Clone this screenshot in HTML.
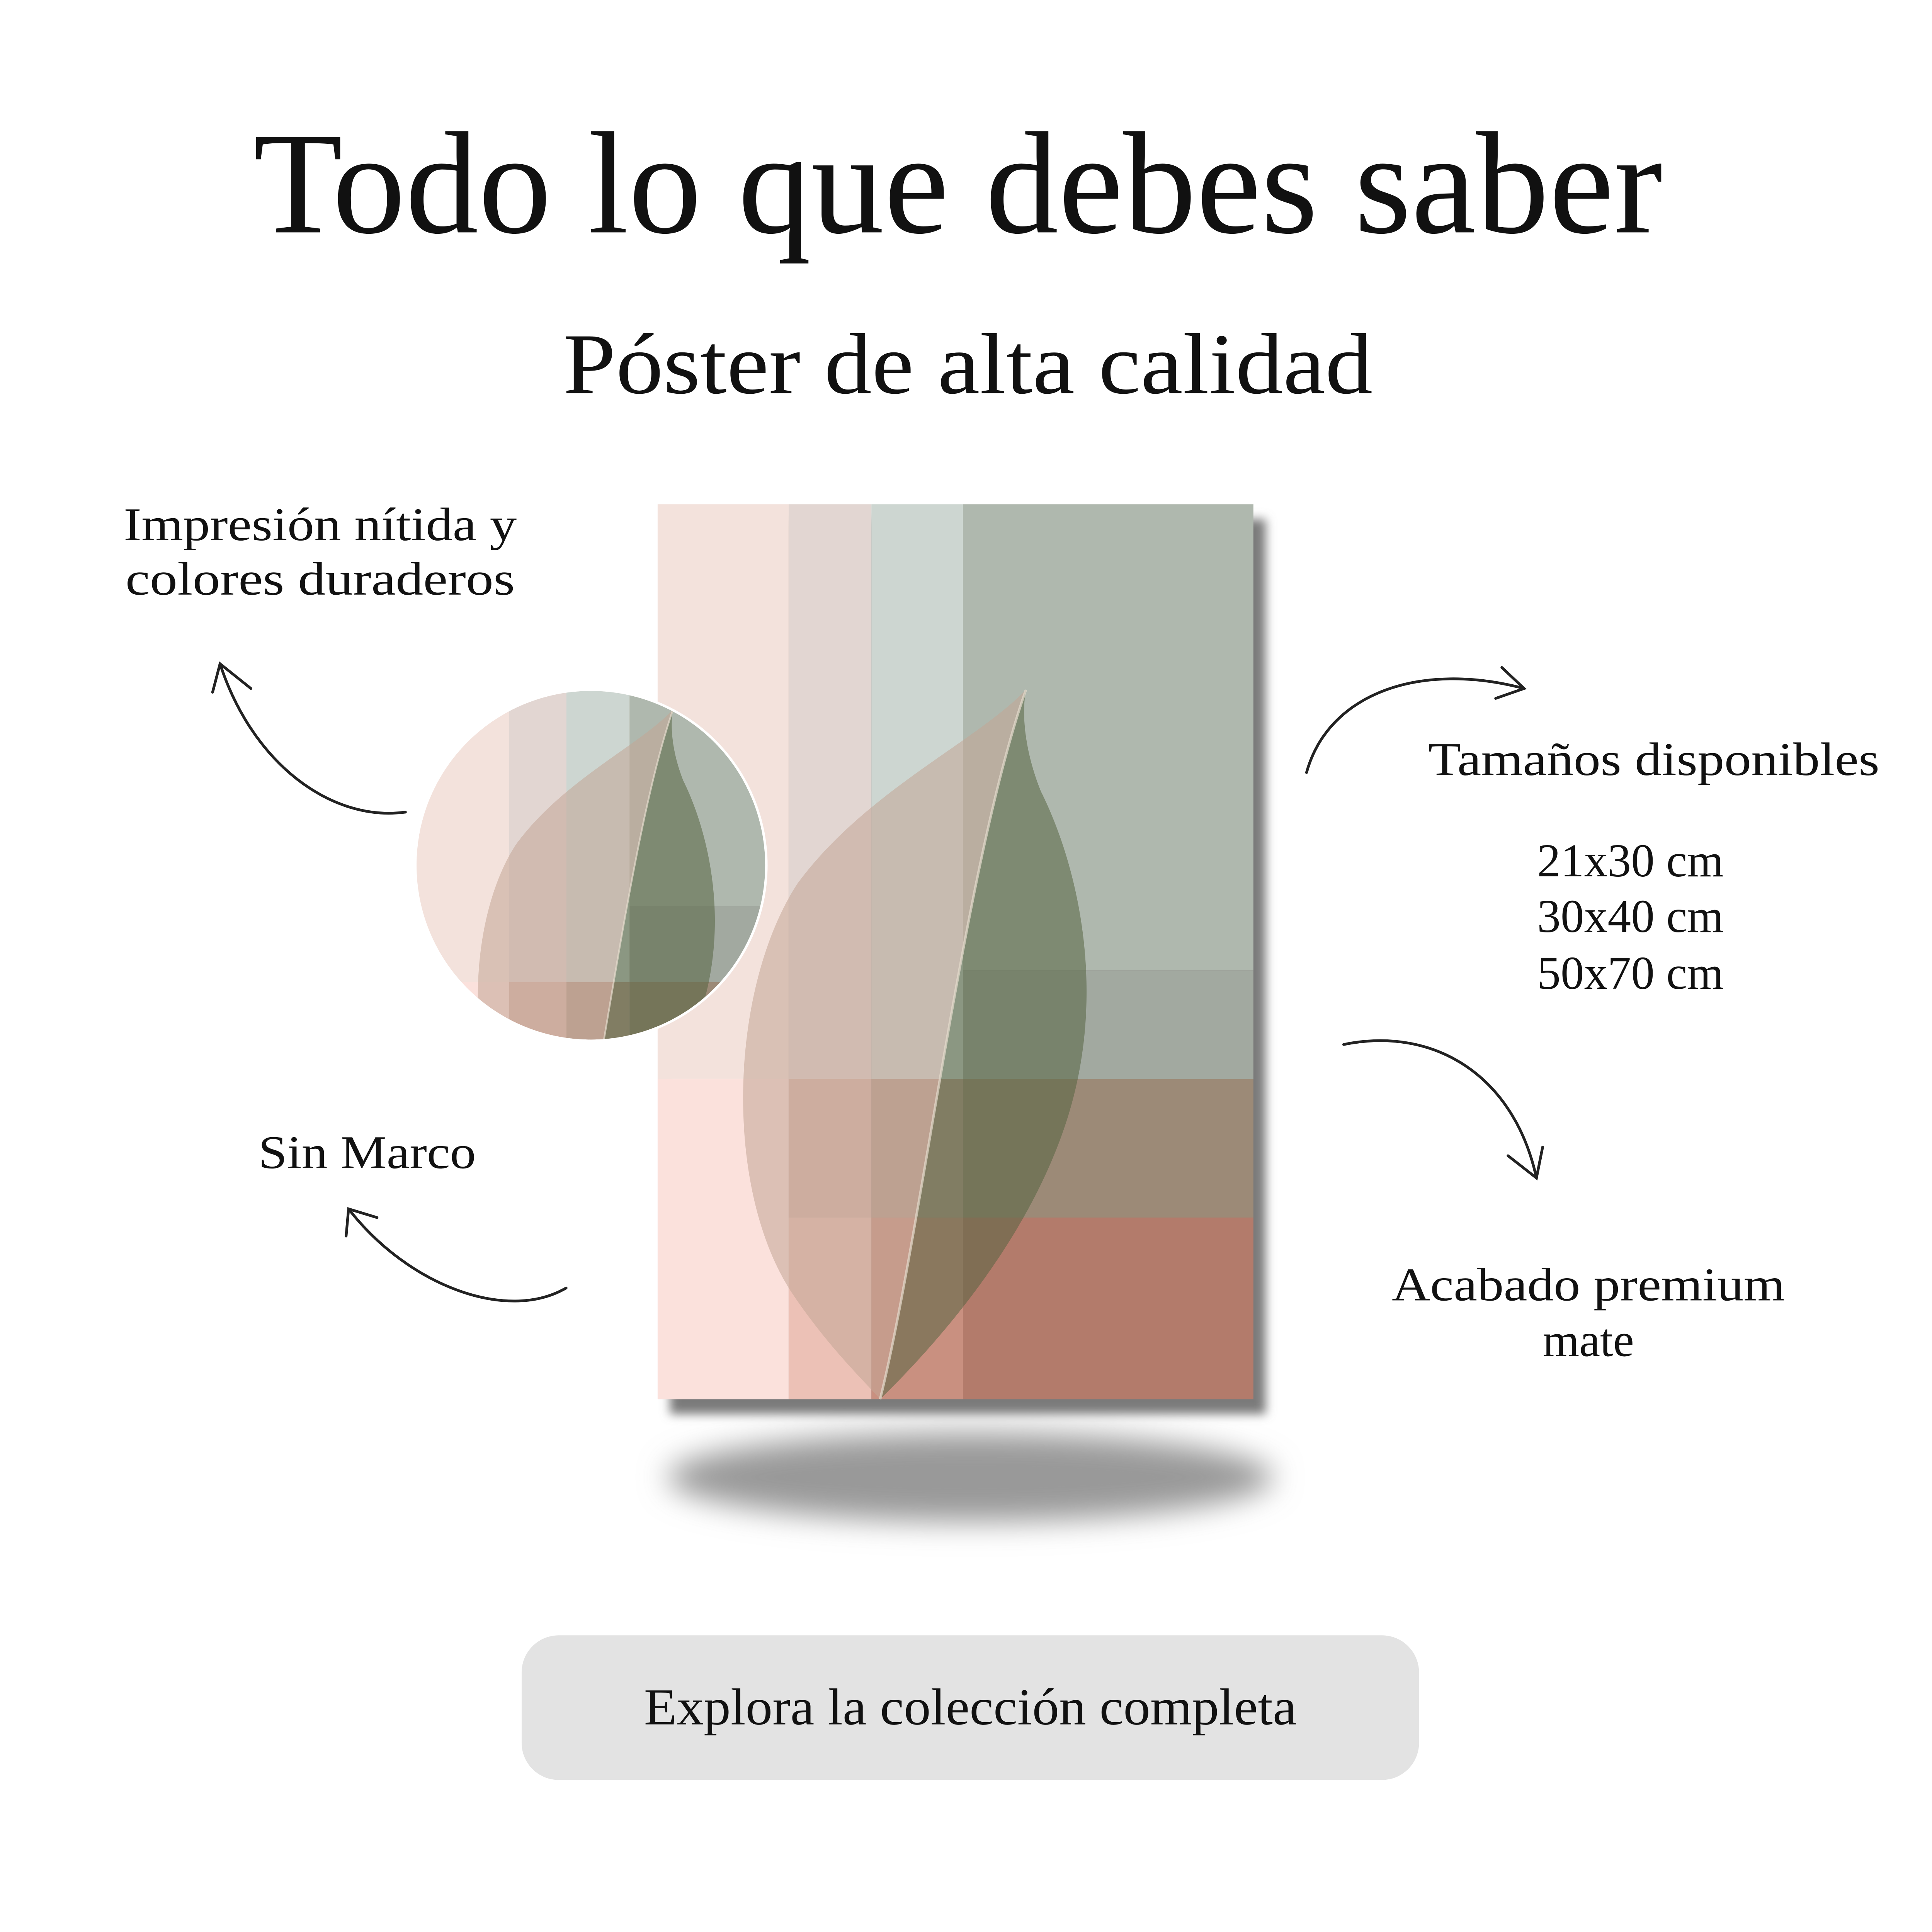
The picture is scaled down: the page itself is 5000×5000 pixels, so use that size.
<!DOCTYPE html>
<html><head><meta charset="utf-8"><style>
html,body{margin:0;padding:0;background:#fff;width:5000px;height:5000px;overflow:hidden}
svg{display:block}
text{font-family:"Liberation Serif",serif;fill:#111}
</style></head><body>
<svg width="5000" height="5000" viewBox="0 0 1563 1563" xmlns="http://www.w3.org/2000/svg">
<defs>
<filter id="b1" x="-50%" y="-50%" width="200%" height="200%"><feGaussianBlur stdDeviation="12"/></filter>
<filter id="b2" x="-20%" y="-20%" width="140%" height="140%"><feGaussianBlur stdDeviation="4"/></filter>
<clipPath id="cc"><circle cx="478" cy="700" r="141"/></clipPath>
<g id="poster">
<rect x="532" y="408" width="106" height="465" fill="#f3e2dc"/>
<rect x="532" y="873" width="106" height="259" fill="#fbe1dc"/>
<rect x="638" y="408" width="67" height="465" fill="#e2d6d2"/>
<rect x="638" y="873" width="67" height="112" fill="#d9b7ac"/>
<rect x="638" y="985" width="67" height="147" fill="#ecc1b6"/>
<rect x="705" y="408" width="74" height="465" fill="#cdd6d1"/>
<rect x="705" y="873" width="74" height="112" fill="#b59c8c"/>
<rect x="705" y="985" width="74" height="147" fill="#c99080"/>
<rect x="779" y="408" width="235" height="377" fill="#afb8ae"/>
<rect x="779" y="785" width="235" height="88" fill="#a2a9a0"/>
<rect x="779" y="873" width="235" height="112" fill="#9c8a77"/>
<rect x="779" y="985" width="235" height="147" fill="#b37b6b"/>
<path d="M830,558 C790,600 700,640 645,715 C590,800 585,960 640,1045 C670,1090 700,1118 712,1132 C745,1000 780,700 830,558 Z" fill="rgba(195,165,150,0.55)"/>
<path d="M830,558 C780,700 745,1000 712,1132 C760,1085 835,1000 865,900 C895,800 872,700 842,640 C830,610 826,580 830,558 Z" fill="rgba(85,100,65,0.55)"/>
<path d="M830,558 C780,700 745,1000 712,1132" stroke="rgba(230,220,205,0.7)" stroke-width="2" fill="none"/>
</g>
</defs>
<rect width="1563" height="1563" fill="#fff"/>
<text x="775" y="188" font-size="118" text-anchor="middle" textLength="1140" lengthAdjust="spacingAndGlyphs">Todo lo que debes saber</text>
<text x="783" y="318" font-size="70" text-anchor="middle" textLength="655" lengthAdjust="spacingAndGlyphs">Póster de alta calidad</text>
<ellipse cx="785" cy="1195" rx="245" ry="36" fill="#999" filter="url(#b1)"/>
<rect x="542" y="420" width="482" height="724" fill="#7a7a7a" filter="url(#b2)"/>
<use href="#poster"/>
<circle cx="478" cy="700" r="143" fill="#fff"/>
<circle cx="478" cy="700" r="141" fill="#f3e2dc"/>
<g clip-path="url(#cc)"><g transform="translate(412,733) scale(0.69,0.70) translate(-638,-785)"><use href="#poster"/></g></g>
<text x="259" y="437" font-size="38" text-anchor="middle" textLength="318" lengthAdjust="spacingAndGlyphs">Impresión nítida  y</text>
<text x="259" y="481" font-size="38" text-anchor="middle" textLength="315" lengthAdjust="spacingAndGlyphs">colores duraderos</text>
<text x="297" y="945" font-size="38" text-anchor="middle" textLength="176" lengthAdjust="spacingAndGlyphs">Sin Marco</text>
<text x="1338" y="627" font-size="38" text-anchor="middle" textLength="365" lengthAdjust="spacingAndGlyphs">Tamaños disponibles</text>
<text x="1319" y="709" font-size="38" text-anchor="middle">21x30 cm</text>
<text x="1319" y="754" font-size="38" text-anchor="middle">30x40 cm</text>
<text x="1319" y="800" font-size="38" text-anchor="middle">50x70 cm</text>
<text x="1285" y="1052" font-size="38" text-anchor="middle" textLength="318" lengthAdjust="spacingAndGlyphs">Acabado premium</text>
<text x="1285" y="1097" font-size="38" text-anchor="middle">mate</text>
<g stroke="#222" stroke-width="2.2" fill="none" stroke-linecap="round">
<path d="M328,657 C270,665 205,620 178,537"/><path d="M172,560 L178,537 L203,557"/>
<path d="M458,1042 C410,1070 330,1040 282,978"/><path d="M280,1000 L282,978 L305,985"/>
<path d="M1057,625 C1075,560 1150,535 1233,557"/><path d="M1215,540 L1233,557 L1210,565"/>
<path d="M1087,845 C1160,830 1225,870 1243,953"/><path d="M1220,935 L1243,953 L1248,928"/>
</g>
<rect x="422" y="1323" width="726" height="117" rx="30" fill="#e3e3e3"/>
<text x="785" y="1395" font-size="42" text-anchor="middle" textLength="528" lengthAdjust="spacingAndGlyphs">Explora la colección completa</text>
</svg>
</body></html>
